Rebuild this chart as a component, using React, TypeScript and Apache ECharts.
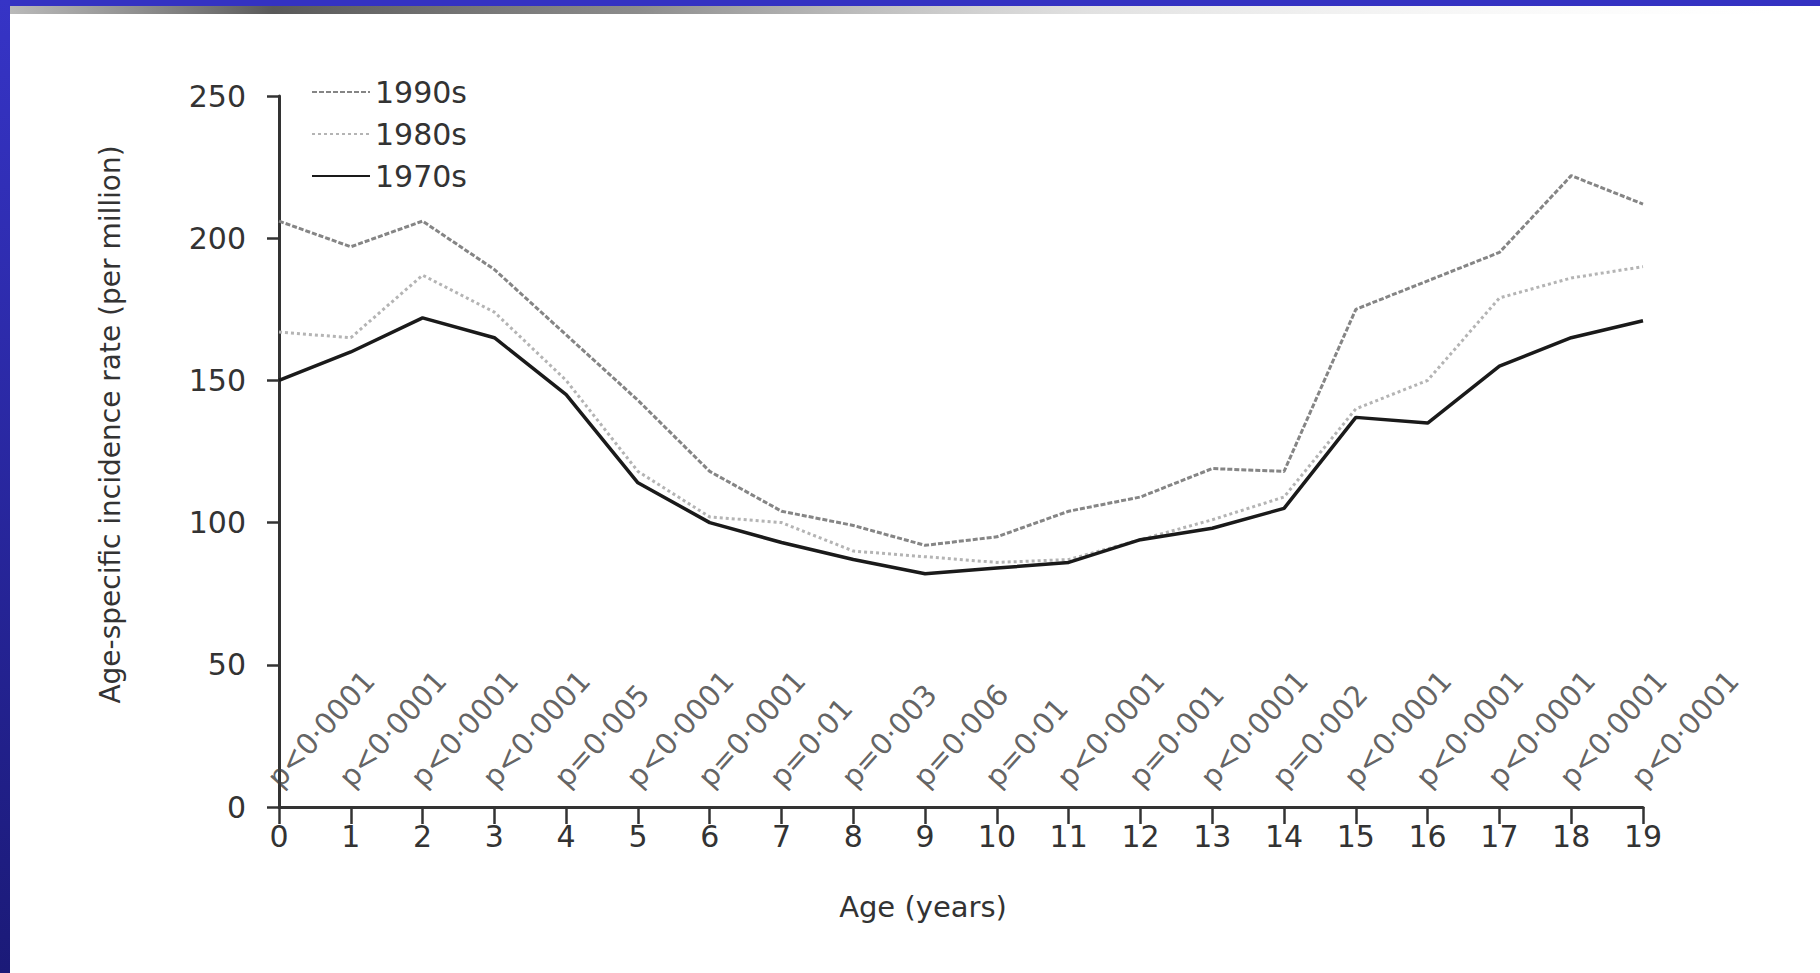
import React, { useEffect, useRef } from "react";
import * as echarts from "echarts";

const ages = [0, 1, 2, 3, 4, 5, 6, 7, 8, 9, 10, 11, 12, 13, 14, 15, 16, 17, 18, 19];
const rate1990s = [206, 197, 206, 189, 166, 143, 118, 104, 99, 92, 95, 104, 109, 119, 118, 175, 185, 195, 222, 212];
const rate1980s = [167, 165, 187, 174, 150, 118, 102, 100, 90, 88, 86, 87, 94, 101, 109, 140, 150, 179, 186, 190];
const rate1970s = [150, 160, 172, 165, 145, 114, 100, 93, 87, 82, 84, 86, 94, 98, 105, 137, 135, 155, 165, 171];
const pValues = [
  "p<0·0001", "p<0·0001", "p<0·0001", "p<0·0001", "p=0·005",
  "p<0·0001", "p=0·0001", "p=0·01", "p=0·003", "p=0·006",
  "p=0·01", "p<0·0001", "p=0·001", "p<0·0001", "p=0·002",
  "p<0·0001", "p<0·0001", "p<0·0001", "p<0·0001", "p<0·0001",
];
const yTicks = { min: 0, max: 250, interval: 50 };

const FONT = "DejaVu Sans";
const TXT = "#333";

export default function App() {
  const ref = useRef<HTMLDivElement>(null);
  useEffect(() => {
    if (!ref.current) return;
    const chart = echarts.init(ref.current, null, { renderer: "svg" });
    const pair = (vals: number[]) => ages.map((a, i) => [a, vals[i]]);
    chart.setOption({
      animation: false,
      backgroundColor: "#ffffff",
      textStyle: { fontFamily: FONT },
      graphic: [
        { type: "rect", left: 0, top: 0, shape: { width: 1820, height: 6 }, style: { fill: "#3432c2" }, silent: true },
        {
          type: "rect", left: 0, top: 6, shape: { width: 1820, height: 8 }, silent: true,
          style: {
            fill: new echarts.graphic.LinearGradient(0, 0, 1, 0, [
              { offset: 0, color: "rgba(120,120,120,0.5)" },
              { offset: 0.15, color: "rgba(60,60,60,0.85)" },
              { offset: 0.35, color: "rgba(90,90,90,0.7)" },
              { offset: 0.6, color: "rgba(170,170,170,0.35)" },
              { offset: 0.9, color: "rgba(230,230,230,0.1)" },
              { offset: 1, color: "rgba(255,255,255,0)" },
            ]),
          },
        },
        {
          type: "rect", left: 0, top: 0, shape: { width: 10, height: 973 }, silent: true,
          style: {
            fill: new echarts.graphic.LinearGradient(0, 0, 0, 1, [
              { offset: 0, color: "#3634c6" },
              { offset: 1, color: "#1b1a78" },
            ]),
          },
        },
      ],
      legend: {
        data: ["1990s", "1980s", "1970s"],
        orient: "vertical",
        left: 306,
        top: 70,
        itemWidth: 58,
        itemHeight: 14,
        itemGap: 8,
        itemStyle: { opacity: 0 },
        textStyle: { fontFamily: FONT, fontSize: 30, color: TXT, lineHeight: 34 },
      },
      grid: { left: 279, right: 177, top: 96, bottom: 166, containLabel: false },
      xAxis: {
        type: "value",
        min: 0,
        max: 19,
        interval: 1,
        name: "Age (years)",
        nameLocation: "middle",
        nameGap: 85,
        nameTextStyle: { fontFamily: FONT, fontSize: 29, color: TXT, padding: [0, 76, 0, 0] },
        axisLine: { onZero: false, lineStyle: { color: "#333", width: 3 } },
        axisTick: { show: true, length: 17, lineStyle: { color: "#333", width: 2.5 } },
        axisLabel: { fontFamily: FONT, fontSize: 30, color: TXT, margin: 14 },
        splitLine: { show: false },
      },
      yAxis: {
        type: "value",
        min: yTicks.min,
        max: yTicks.max,
        interval: yTicks.interval,
        name: "Age-specific incidence rate (per million)",
        nameLocation: "middle",
        nameGap: 155,
        nameTextStyle: { fontFamily: FONT, fontSize: 28, color: TXT, padding: [0, 0, 0, 54] },
        axisLine: { show: true, lineStyle: { color: "#333", width: 3 } },
        axisTick: { show: true, length: 12, lineStyle: { color: "#333", width: 2.5 } },
        axisLabel: { fontFamily: FONT, fontSize: 30, color: TXT, margin: 33 },
        splitLine: { show: false },
      },
      series: [
        {
          name: "p-values",
          type: "scatter",
          data: ages.map((a, i) => ({ value: [a, 0], name: pValues[i] })),
          symbolSize: 1,
          itemStyle: { color: "rgba(0,0,0,0)" },
          silent: true,
          z: 1,
          label: {
            show: true,
            formatter: "{b}",
            position: "inside",
            align: "left",
            verticalAlign: "middle",
            rotate: 48,
            offset: [14, -21],
            fontFamily: FONT,
            fontSize: 29,
            color: "#3a3a3a",
          },
        },
        {
          name: "1980s",
          type: "line",
          data: pair(rate1980s),
          symbol: "none",
          lineStyle: { color: "#b4b4b4", width: 3, type: [3, 3] },
          itemStyle: { color: "#b4b4b4" },
          z: 2,
        },
        {
          name: "1990s",
          type: "line",
          data: pair(rate1990s),
          symbol: "none",
          lineStyle: { color: "#858585", width: 3, type: [5, 2] },
          itemStyle: { color: "#858585" },
          z: 3,
        },
        {
          name: "1970s",
          type: "line",
          data: pair(rate1970s),
          symbol: "none",
          lineStyle: { color: "#1a1a1a", width: 3.5, type: "solid" },
          itemStyle: { color: "#1a1a1a" },
          z: 4,
        },
      ],
    });
    return () => chart.dispose();
  }, []);
  return (
    <div
      ref={ref}
      style={{ position: "absolute", left: 0, top: 0, width: 1820, height: 973 }}
    />
  );
}
